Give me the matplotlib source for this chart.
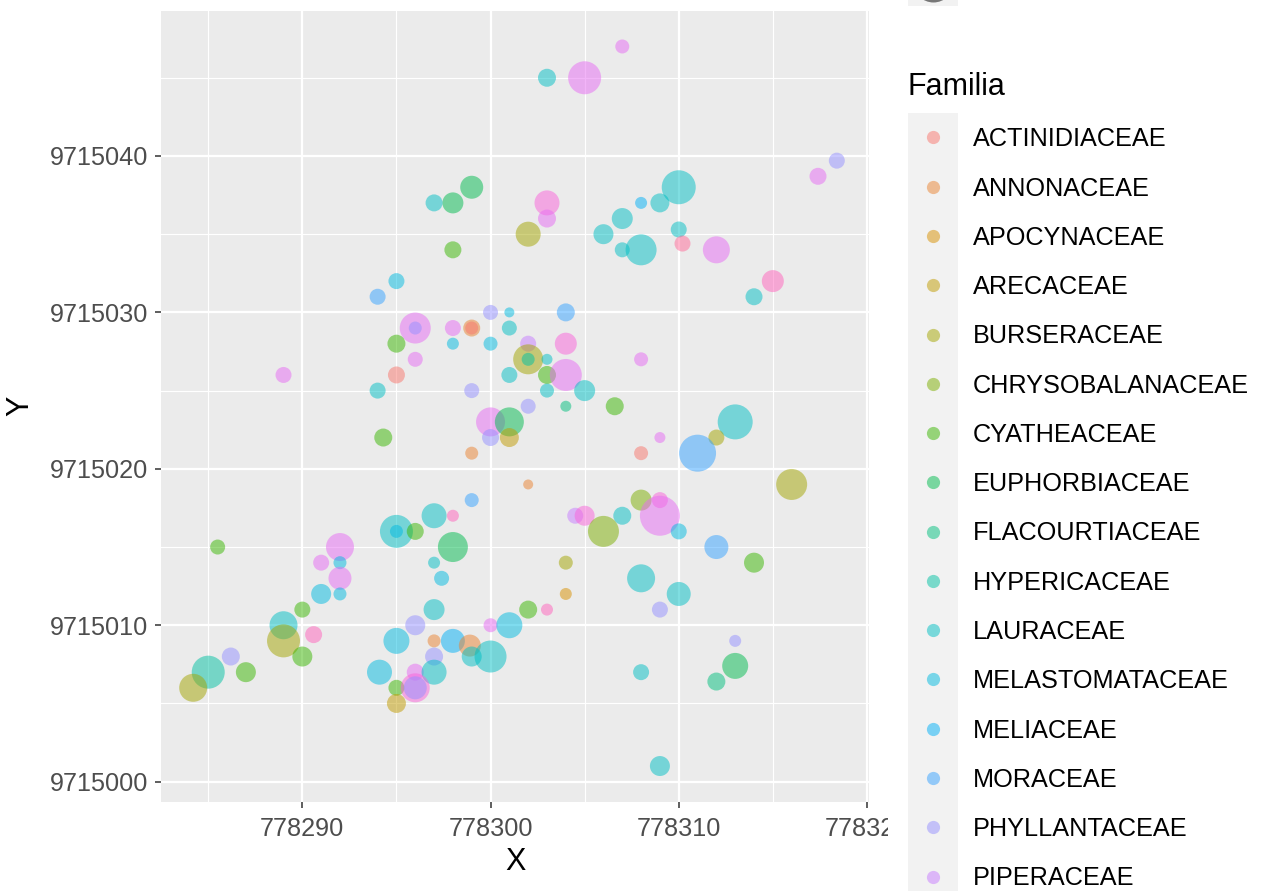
import numpy as np
import matplotlib
matplotlib.use('Agg')
import matplotlib.pyplot as plt
from matplotlib.lines import Line2D
from matplotlib.patches import Rectangle
from matplotlib.ticker import MultipleLocator, FuncFormatter

plt.rcParams['font.family'] = ['Liberation Sans', 'DejaVu Sans']

# familias na ordem da legenda (as 4 ultimas ficam fora da figura)
familias = ['ACTINIDIACEAE', 'ANNONACEAE', 'APOCYNACEAE', 'ARECACEAE', 'BURSERACEAE',
            'CHRYSOBALANACEAE', 'CYATHEACEAE', 'EUPHORBIACEAE', 'FLACOURTIACEAE',
            'HYPERICACEAE', 'LAURACEAE', 'MELASTOMATACEAE', 'MELIACEAE', 'MORACEAE',
            'PHYLLANTACEAE', 'PIPERACEAE', 'RUBIACEAE', 'SAPINDACEAE', 'SAPOTACEAE',
            'URTICACEAE']

# coordenadas UTM das arvores
X = [778307, 778303, 778305, 778318.4, 778317.4, 778310, 778299, 778298, 778297, 778303,
     778303, 778308, 778309, 778307, 778306, 778302, 778308, 778307, 778310, 778310.2,
     778312, 778315, 778314, 778298, 778295, 778294, 778304, 778300, 778301, 778296,
     778296, 778298, 778299, 778299, 778301, 778295, 778298, 778300, 778302, 778304,
     778296, 778302, 778302, 778303, 778308, 778295, 778289, 778301, 778303, 778304,
     778294, 778299, 778303, 778305, 778302, 778304, 778306.6, 778300, 778301, 778313,
     778300, 778301, 778294.3, 778309, 778312, 778299, 778308, 778311, 778302, 778316,
     778299, 778308, 778309, 778298, 778297, 778304.5, 778305, 778307, 778309, 778295,
     778295, 778296, 778306, 778310, 778285.5, 778292, 778298, 778312, 778291, 778292,
     778297, 778304, 778314, 778292, 778297.4, 778308, 778291, 778292, 778304, 778310,
     778290, 778297, 778302, 778303, 778309, 778289, 778296, 778300, 778301, 778289,
     778290.6, 778295, 778297, 778298, 778298.9, 778313, 778290, 778286.2, 778297, 778299,
     778300, 778285, 778287, 778294.1, 778296, 778297, 778308, 778313, 778284.2, 778295,
     778296, 778296, 778312, 778295, 778309]
Y = [9715047, 9715045, 9715045, 9715039.7, 9715038.7, 9715038, 9715038, 9715037, 9715037, 9715037,
     9715036, 9715037, 9715037, 9715036, 9715035, 9715035, 9715034, 9715034, 9715035.3, 9715034.4,
     9715034, 9715032, 9715031, 9715034, 9715032, 9715031, 9715030, 9715030, 9715030, 9715029,
     9715029, 9715029, 9715029, 9715029, 9715029, 9715028, 9715028, 9715028, 9715028, 9715028,
     9715027, 9715027, 9715027, 9715027, 9715027, 9715026, 9715026, 9715026, 9715026, 9715026,
     9715025, 9715025, 9715025, 9715025, 9715024, 9715024, 9715024, 9715023, 9715023, 9715023,
     9715022, 9715022, 9715022, 9715022, 9715022, 9715021, 9715021, 9715021, 9715019, 9715019,
     9715018, 9715018, 9715018, 9715017, 9715017, 9715017, 9715017, 9715017, 9715017, 9715016,
     9715016, 9715016, 9715016, 9715016, 9715015, 9715015, 9715015, 9715015, 9715014, 9715014,
     9715014, 9715014, 9715014, 9715013, 9715013, 9715013, 9715012, 9715012, 9715012, 9715012,
     9715011, 9715011, 9715011, 9715011, 9715011, 9715010, 9715010, 9715010, 9715010, 9715009,
     9715009.4, 9715009, 9715009, 9715009, 9715008.7, 9715009, 9715008, 9715008, 9715008, 9715008,
     9715008, 9715007, 9715007, 9715007, 9715007, 9715007, 9715007, 9715007.4, 9715006, 9715006,
     9715006, 9715006, 9715006.4, 9715005, 9715001]
# tamanho (diametro) de cada ponto
DAP = [14, 18, 33, 16, 17, 34, 23, 21, 17, 25,
       18, 12, 19, 21, 20, 25, 31, 15, 16, 16,
       27, 22, 17, 17, 16, 16, 18, 15, 10, 31,
       13, 16, 17, 13, 15, 18, 12, 14, 16, 22,
       15, 30, 13, 11, 14, 17, 16, 16, 18, 32,
       16, 15, 14, 21, 15, 11, 18, 29, 29, 35,
       17, 19, 18, 11, 16, 13, 14, 37, 10, 31,
       14, 21, 16, 12, 25, 16, 20, 18, 40, 33,
       13, 17, 31, 16, 15, 28, 30, 24, 16, 13,
       12, 14, 20, 23, 15, 28, 20, 13, 12, 24,
       16, 21, 18, 12, 16, 28, 20, 14, 26, 33,
       17, 26, 13, 24, 22, 12, 20, 18, 18, 20,
       32, 33, 20, 25, 17, 25, 16, 26, 28, 16,
       29, 23, 18, 19, 20]
Familia = ['RUBIACEAE', 'LAURACEAE', 'RUBIACEAE', 'PHYLLANTACEAE', 'RUBIACEAE',
           'LAURACEAE', 'EUPHORBIACEAE', 'EUPHORBIACEAE', 'LAURACEAE', 'SAPINDACEAE',
           'RUBIACEAE', 'MELIACEAE', 'LAURACEAE', 'LAURACEAE', 'LAURACEAE',
           'BURSERACEAE', 'LAURACEAE', 'LAURACEAE', 'LAURACEAE', 'URTICACEAE',
           'RUBIACEAE', 'SAPOTACEAE', 'LAURACEAE', 'CYATHEACEAE', 'MELASTOMATACEAE',
           'MORACEAE', 'MORACEAE', 'PHYLLANTACEAE', 'MELASTOMATACEAE', 'RUBIACEAE',
           'PHYLLANTACEAE', 'RUBIACEAE', 'ANNONACEAE', 'ACTINIDIACEAE', 'LAURACEAE',
           'CYATHEACEAE', 'MELASTOMATACEAE', 'MELASTOMATACEAE', 'PIPERACEAE', 'SAPINDACEAE',
           'RUBIACEAE', 'BURSERACEAE', 'HYPERICACEAE', 'LAURACEAE', 'RUBIACEAE',
           'ACTINIDIACEAE', 'RUBIACEAE', 'LAURACEAE', 'CYATHEACEAE', 'RUBIACEAE',
           'LAURACEAE', 'PHYLLANTACEAE', 'LAURACEAE', 'LAURACEAE', 'PHYLLANTACEAE',
           'FLACOURTIACEAE', 'CYATHEACEAE', 'RUBIACEAE', 'EUPHORBIACEAE', 'LAURACEAE',
           'PHYLLANTACEAE', 'ARECACEAE', 'CYATHEACEAE', 'RUBIACEAE', 'BURSERACEAE',
           'ANNONACEAE', 'ACTINIDIACEAE', 'MORACEAE', 'ANNONACEAE', 'BURSERACEAE',
           'MORACEAE', 'CHRYSOBALANACEAE', 'SAPINDACEAE', 'SAPOTACEAE', 'LAURACEAE',
           'PIPERACEAE', 'SAPINDACEAE', 'LAURACEAE', 'RUBIACEAE', 'LAURACEAE',
           'MELASTOMATACEAE', 'CYATHEACEAE', 'CHRYSOBALANACEAE', 'MELASTOMATACEAE', 'CYATHEACEAE',
           'RUBIACEAE', 'EUPHORBIACEAE', 'MORACEAE', 'RUBIACEAE', 'MELASTOMATACEAE',
           'LAURACEAE', 'BURSERACEAE', 'CYATHEACEAE', 'RUBIACEAE', 'MELASTOMATACEAE',
           'LAURACEAE', 'MELASTOMATACEAE', 'MELASTOMATACEAE', 'APOCYNACEAE', 'LAURACEAE',
           'CYATHEACEAE', 'LAURACEAE', 'CYATHEACEAE', 'SAPOTACEAE', 'PHYLLANTACEAE',
           'LAURACEAE', 'PHYLLANTACEAE', 'RUBIACEAE', 'MELASTOMATACEAE', 'BURSERACEAE',
           'SAPOTACEAE', 'MELASTOMATACEAE', 'ANNONACEAE', 'MELIACEAE', 'ANNONACEAE',
           'PHYLLANTACEAE', 'CYATHEACEAE', 'PHYLLANTACEAE', 'PHYLLANTACEAE', 'LAURACEAE',
           'LAURACEAE', 'HYPERICACEAE', 'CYATHEACEAE', 'MELASTOMATACEAE', 'RUBIACEAE',
           'LAURACEAE', 'LAURACEAE', 'EUPHORBIACEAE', 'BURSERACEAE', 'CYATHEACEAE',
           'SAPINDACEAE', 'PHYLLANTACEAE', 'FLACOURTIACEAE', 'ARECACEAE', 'LAURACEAE']

DAP_LEGENDA = [10, 20, 30, 40]


def hcl2rgb(h, c=100, l=65):
    """Converte HCL (polarLUV) para sRGB, como grDevices::hcl"""
    hr = np.radians(h)
    U, V = c * np.cos(hr), c * np.sin(hr)
    Yl = ((l + 16) / 116) ** 3
    un, vn = 0.1978398, 0.4683363
    u = U / (13 * l) + un
    v = V / (13 * l) + vn
    Xl = 9 * Yl * u / (4 * v)
    Zl = -Xl / 3 - 5 * Yl + 3 * Yl / v
    M = np.array([[3.240479, -1.537150, -0.498535],
                  [-0.969256, 1.875992, 0.041556],
                  [0.055648, -0.204043, 1.057311]])
    lin = M @ np.array([Xl, Yl, Zl])
    rgb = np.where(lin > 0.0031308, 1.055 * np.abs(lin) ** (1 / 2.4) - 0.055, 12.92 * lin)
    return tuple(np.clip(rgb, 0, 1))


def hue_pal(n):
    hues = np.linspace(15, 375, n + 1)[:-1]
    return [hcl2rgb(h % 360) for h in hues]


def size_scale(v):
    # diametro em pixels -> area em pt^2
    return (np.asarray(v) * 0.72) ** 2


W, H = 1265, 891
fig = plt.figure(figsize=(W / 100, H / 100), dpi=100)
ax = fig.add_axes([161 / W, 1 - 802 / H, (869 - 161) / W, (802 - 10.5) / H])

pal = hue_pal(len(familias))
cores = [pal[familias.index(f)] for f in Familia]

ax.scatter(X, Y, s=size_scale(DAP), c=cores, alpha=0.5, linewidths=0, zorder=3)

# expansao de 5% como no ggplot
x0, x1 = min(X), max(X)
y0, y1 = min(Y), max(Y)
ax.set_xlim(x0 - 0.05 * (x1 - x0), x1 + 0.05 * (x1 - x0))
ax.set_ylim(y0 - 0.05 * (y1 - y0), y1 + 0.05 * (y1 - y0))

ax.set_facecolor('#EBEBEB')
for s in ax.spines.values():
    s.set_visible(False)
ax.xaxis.set_major_locator(MultipleLocator(10))
ax.xaxis.set_minor_locator(MultipleLocator(5))
ax.yaxis.set_major_locator(MultipleLocator(10))
ax.yaxis.set_minor_locator(MultipleLocator(5))
fmt = FuncFormatter(lambda v, _: f'{v:.0f}')
ax.xaxis.set_major_formatter(fmt)
ax.yaxis.set_major_formatter(fmt)
ax.grid(which='major', color='white', linewidth=1.6)
ax.grid(which='minor', color='white', linewidth=0.8)
ax.set_axisbelow(True)
ax.tick_params(which='major', length=4.3, width=1.1, color='#333333',
               labelsize=18.2, labelcolor='#4D4D4D', pad=5)
ax.tick_params(axis='x', which='major', pad=6.5)
ax.tick_params(which='minor', length=0)
ax.set_xlabel('X', fontsize=22, labelpad=4)
ax.set_ylabel('Y', fontsize=22, labelpad=10)

# fundo branco da legenda e coluna cinza das chaves
fig.add_artist(Rectangle((888 / W, 0), (W - 888) / W, 1, transform=fig.transFigure,
                         facecolor='white', edgecolor='none', zorder=4))
fig.add_artist(Rectangle((908 / W, 0), 50 / W, (H - 113) / H, transform=fig.transFigure,
                         facecolor='#F2F2F2', edgecolor='none', zorder=4.5))
fig.add_artist(Rectangle((908 / W, 1 - 6 / H), 50 / W, 6 / H, transform=fig.transFigure,
                         facecolor='#F2F2F2', edgecolor='none', zorder=4.5))

handles = [Line2D([], [], ls='', marker='o', ms=9.5, mfc=c, mec='none', alpha=0.5) for c in pal]
fig.legend(handles, familias, title='Familia', loc='upper left',
           bbox_to_anchor=(908 / W, 1 - 72 / H), frameon=False,
           fontsize=18.2, title_fontsize=22, alignment='left',
           handlelength=1.98, handletextpad=0.59, labelspacing=1.0,
           borderpad=0, borderaxespad=0)

# legenda de tamanho (fica quase toda acima da figura)
h_size = [Line2D([], [], ls='', marker='o', ms=float(np.sqrt(size_scale(v))), mfc='black',
                 mec='none', alpha=0.5) for v in DAP_LEGENDA]
fig.legend(h_size, [str(v) for v in DAP_LEGENDA], title='DAP', loc='lower left',
           bbox_to_anchor=(908 / W, 1 + 4 / H), frameon=False,
           fontsize=18.2, title_fontsize=22, alignment='left',
           handlelength=1.98, handletextpad=0.59, labelspacing=1.0,
           borderpad=0, borderaxespad=0)

fig.savefig('out.png', dpi=100)
